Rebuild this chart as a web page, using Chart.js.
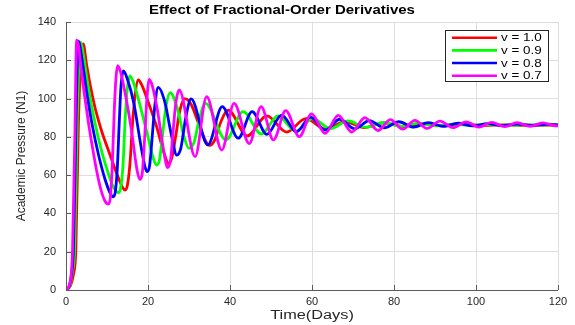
<!DOCTYPE html>
<html><head><meta charset="utf-8">
<script src="https://cdn.jsdelivr.net/npm/chart.js@4.4.1/dist/chart.umd.min.js"></script>
<style>html,body{margin:0;padding:0;background:#fff;overflow:hidden}#wrap{width:575px;height:325px;position:relative}</style>
</head><body><div id="wrap"><canvas id="c" width="575" height="325"></canvas></div>
<script>
const chartTitle = 'Effect of Fractional-Order Derivatives';
const xTitle = 'Time(Days)';
const yTitle = 'Academic Pressure (N1)';
const xTickValues = [0, 20, 40, 60, 80, 100, 120];
const yTickValues = [0, 20, 40, 60, 80, 100, 120, 140];
const seriesNames = ['v = 1.0', 'v = 0.9', 'v = 0.8', 'v = 0.7'];
const seriesColors = ['#ff0000', '#00ff00', '#0000ff', '#ff00ff'];

// [time, value]
const redV10 = [[0,0],[1,2],[1.8,8],[2.4,21],[3,84],[3.6,120],[4.2,128.5],[5,118],[6,106],[7,96],[8,88],[9,81],[10,75],[11,69],[12,63],[13,57.5],[13.8,53.5],[14.4,52.2],[15,55],[15.6,66],[16.2,86],[16.8,101],[17.6,109.7],[18.5,107],[20,98.5],[22,86],[24,71],[25,66.2],[25.8,69],[26.8,81],[27.8,94],[29,100],[30.5,97],[32.5,86],[34,78],[35,75.5],[36.2,78],[37.8,88],[39.5,94],[44.2,80.5],[49,91],[53.8,82.5],[58.5,89.5],[63.3,84],[68,88],[72.8,84.8],[77.5,87.3],[82.3,85.4],[87,86.8],[92,85.7],[97,86.5],[102,85.9],[107,86.3],[112,86.0],[120,86.2]];
const greenV09 = [[0,0],[1,2.5],[1.6,10],[2.1,21],[2.7,84],[3.2,122],[3.6,129.5],[4.3,122],[5.5,105],[7,88],[8.5,74],[10,63],[11.3,55],[12.3,51.5],[12.8,50.8],[13.3,53],[13.9,65],[14.4,88],[14.9,104],[15.6,111.8],[16.5,108],[18,97],[20,80],[21.4,68],[22.1,65.3],[22.8,68],[23.6,82],[24.4,96],[25.4,103.1],[27,96],[28.8,80],[30,74],[31.2,77],[32.6,90],[34,97.5],[39,78.4],[43.2,93.2],[47.6,81.5],[51.7,91],[56,83],[60.2,89.5],[64.5,84.3],[68.8,88.3],[73.1,85],[77.4,87.5],[81.7,85.5],[86,87],[90.3,85.8],[94.6,86.6],[99,86],[103.3,86.4],[107.6,86.1],[112,86.3],[120,86.2]];
const blueV08 = [[0,0],[0.8,2],[1.4,9],[1.8,21],[2.4,84],[2.8,122],[3.1,130],[3.8,122],[5,104],[6.5,85],[8,70],[9.5,58],[10.8,50.5],[11.5,48.7],[12,51],[12.5,63],[13,88],[13.4,106],[14,114.4],[15,110],[16.5,98],[18.3,75],[19.3,64],[19.8,61.8],[20.4,65],[21.1,82],[21.7,97],[22.5,105.9],[24,99],[25.8,80],[27,70.5],[28,74],[29.2,90],[30.5,99.8],[34.6,75.8],[38.1,95.8],[42,79.3],[45.4,93.2],[49,81.3],[52.6,91.4],[56.2,82.6],[59.6,90.3],[63.2,83.5],[66.8,89.2],[70.4,84.2],[74,88.5],[77.6,84.7],[81.2,87.9],[84.8,85.1],[88.4,87.4],[92,85.5],[95.6,87.1],[99.2,85.7],[102.8,86.9],[106.4,85.9],[110,86.7],[113.6,86],[117.2,86.5],[120,86.2]];
const magentaV07 = [[0,0],[0.5,1],[1,4],[1.3,9],[1.6,21],[2.2,84],[2.45,122],[2.6,130.5],[3.1,127],[3.6,117],[4.5,102],[5.5,87],[6.5,74],[7.5,62],[8.5,52.5],[9.5,46.5],[10.3,44.9],[10.8,48],[11.3,66],[11.8,95],[12.2,111],[12.6,117.2],[13.3,114],[14.5,102],[16,83],[17.3,63],[18,57.8],[18.6,61],[19.2,80],[19.7,99],[20.3,110],[21,107],[22.3,94],[23.8,73],[24.8,64],[25.5,68],[26.2,85],[26.8,98],[27.6,104.5],[31.5,69.7],[34.3,101],[38,73.1],[41,97.5],[44.7,76.5],[47.6,95.8],[50.6,78.4],[53.6,93.7],[56.9,80.1],[59.9,92],[63.2,81.8],[66.4,91.2],[69.7,82.5],[72.9,90],[76.1,83.3],[79.1,89],[82.1,84],[85.1,88.6],[88.1,84.4],[91.2,88.2],[94.4,84.8],[97.6,87.8],[100.7,85.1],[103.8,87.6],[107,85.3],[110,87.4],[113.2,85.5],[116.3,87.3],[119.6,85.7],[120,85.8]];

const seriesData = [redV10, greenV09, blueV08, magentaV07];
const FONT = "'Liberation Sans', Arial, Helvetica, sans-serif";

function wideText(ctx, text, x, y, sx) {
  ctx.save();
  ctx.translate(x, y);
  ctx.scale(sx, 1);
  ctx.fillText(text, 0, 0);
  ctx.restore();
}

const decorPlugin = {
  id: 'decor',
  afterDatasetsDraw(chart) {
    const ctx = chart.ctx;
    const xs = chart.scales.x, ys = chart.scales.y;
    const a = chart.chartArea;
    ctx.save();
    ctx.strokeStyle = '#5a5a5a';
    ctx.lineWidth = 1;
    ctx.beginPath();
    ctx.moveTo(a.left + 0.5, a.top);
    ctx.lineTo(a.left + 0.5, a.bottom + 0.5);
    ctx.lineTo(a.right, a.bottom + 0.5);
    ctx.stroke();
    ctx.beginPath();
    xTickValues.forEach(v => {
      const px = Math.round(xs.getPixelForValue(v)) + 0.5;
      ctx.moveTo(px, a.bottom); ctx.lineTo(px, a.bottom - 5);
    });
    yTickValues.forEach(v => {
      const py = Math.round(ys.getPixelForValue(v)) + 0.5;
      ctx.moveTo(a.left, py); ctx.lineTo(a.left + 5, py);
    });
    ctx.stroke();
    // title
    ctx.fillStyle = '#000';
    ctx.font = 'bold 12px ' + FONT;
    ctx.textAlign = 'center';
    ctx.textBaseline = 'middle';
    wideText(ctx, chartTitle, 282, 11, 1.25);
    // x axis title
    ctx.fillStyle = '#262626';
    ctx.font = '12px ' + FONT;
    wideText(ctx, xTitle, (a.left + a.right) / 2, 316, 1.36);
    // legend
    const bx = 445.5, by = 30.5, bw = 103, bh = 51;
    ctx.fillStyle = '#fff';
    ctx.fillRect(bx, by, bw, bh);
    ctx.strokeStyle = '#262626';
    ctx.lineWidth = 1;
    ctx.strokeRect(bx, by, bw, bh);
    ctx.font = '11px ' + FONT;
    ctx.textAlign = 'left';
    seriesNames.forEach((n, i) => {
      const y = 37.7 + i * 12.67;
      ctx.strokeStyle = seriesColors[i];
      ctx.lineWidth = 2.6;
      ctx.beginPath(); ctx.moveTo(452, y); ctx.lineTo(497, y); ctx.stroke();
      ctx.fillStyle = '#000';
      wideText(ctx, n, 501, y + 0.5, 1.22);
    });
    ctx.restore();
  }
};

new Chart(document.getElementById('c'), {
  type: 'line',
  data: {
    datasets: seriesData.map((d, i) => ({
      label: seriesNames[i],
      data: d,
      borderColor: seriesColors[i],
      backgroundColor: seriesColors[i],
      borderWidth: 2.8,
      pointRadius: 0,
      cubicInterpolationMode: 'monotone',
      fill: false,
      order: 4 - i
    }))
  },
  options: {
    responsive: false,
    animation: false,
    devicePixelRatio: 1,
    layout: { padding: { top: 22, right: 17, left: 0, bottom: 0 } },
    plugins: { legend: { display: false }, tooltip: { enabled: false }, title: { display: false } },
    scales: {
      x: {
        type: 'linear', min: 0, max: 120,
        afterBuildTicks: s => { s.ticks = xTickValues.map(v => ({ value: v })); },
        afterFit: s => { s.height = 35; },
        grid: { color: '#dedede', lineWidth: 1, drawTicks: false },
        border: { display: false },
        ticks: { font: { size: 11, family: FONT }, color: '#262626', padding: 5, maxRotation: 0 },
        title: { display: false }
      },
      y: {
        type: 'linear', min: 0, max: 140,
        afterBuildTicks: s => { s.ticks = yTickValues.map(v => ({ value: v })); },
        afterFit: s => { s.width = 66; },
        grid: { color: '#dedede', lineWidth: 1, drawTicks: false },
        border: { display: false },
        ticks: { font: { size: 11, family: FONT }, color: '#262626', padding: 10 },
        title: { display: true, text: yTitle, font: { size: 12, family: FONT }, color: '#262626', padding: { top: 14, bottom: 0 } }
      }
    }
  },
  plugins: [decorPlugin]
});
</script></body></html>
